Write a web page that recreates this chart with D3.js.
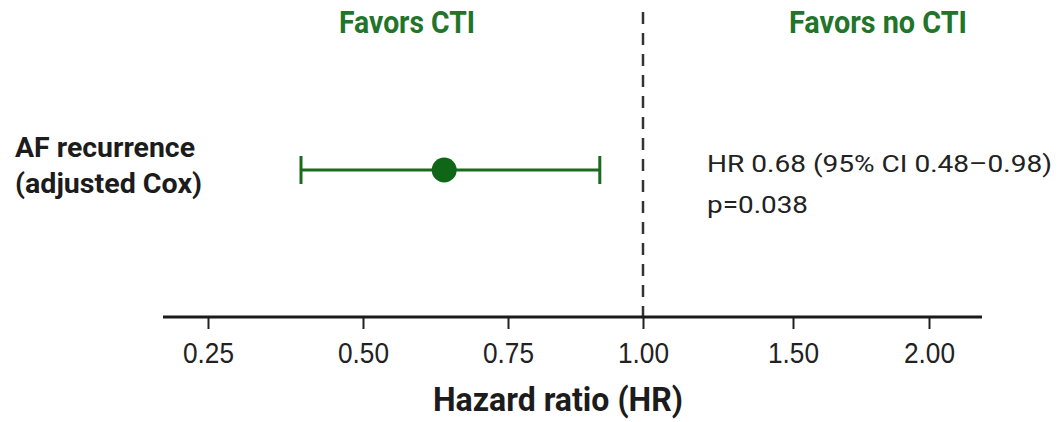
<!DOCTYPE html>
<html>
<head>
<meta charset="utf-8">
<script src="https://cdn.jsdelivr.net/npm/d3@7"></script>
<style>
  html, body { margin: 0; padding: 0; background: #ffffff; }
  svg { display: block; font-family: "Roboto", "Liberation Sans", sans-serif; }
</style>
</head>
<body>
<div id="chart"></div>
<script>
// Chart data
const rowLabels = ['AF recurrence', '(adjusted Cox)'];
const hrPoint = [0.64];
const ciLower = [0.40];
const ciUpper = [0.92];
const tickValues = [0.25, 0.50, 0.75, 1.00, 1.50, 2.00];
const tickLabels = ['0.25', '0.50', '0.75', '1.00', '1.50', '2.00'];
const sideLabels = ['Favors CTI', 'Favors no CTI'];
const resultLines = ['HR 0.68 (95% CI 0.48\u20130.98)', 'p=0.038'];
const axisTitle = 'Hazard ratio (HR)';
const nullValue = 1.00;

const width = 1058, height = 422;
const green = '#1b6b1f';
const dark = '#1c1c1c';

const svg = d3.select('#chart').append('svg')
    .attr('width', width)
    .attr('height', height);

// Piecewise scale, ticks spaced roughly evenly as in the figure
const xScale = d3.scaleLinear()
    .domain(tickValues)
    .range([208, 363, 508, 643, 793, 929]);

const axisY = 317;
const rowY = 170;

// helper for text squeezed to a given width (figure uses a condensed face)
function addText(str, x, y, opts) {
    const t = svg.append('text')
        .attr('x', x)
        .attr('y', y)
        .attr('font-size', opts.size)
        .attr('font-weight', opts.bold ? 'bold' : 'normal')
        .attr('fill', opts.fill || dark)
        .attr('text-anchor', opts.anchor || 'start')
        .text(str);
    if (opts.len) {
        t.attr('textLength', opts.len).attr('lengthAdjust', 'spacingAndGlyphs');
    }
    return t;
}

// dashed null line
svg.append('line')
    .attr('x1', xScale(nullValue))
    .attr('x2', xScale(nullValue))
    .attr('y1', 12)
    .attr('y2', axisY)
    .attr('stroke', '#333')
    .attr('stroke-width', 2.5)
    .attr('stroke-dasharray', '12,9');

// x axis
const axis = svg.append('g')
    .attr('transform', `translate(0,${axisY})`)
    .call(d3.axisBottom(xScale)
        .tickValues(tickValues)
        .tickFormat((d, i) => tickLabels[i])
        .tickSize(12)
        .tickPadding(14));

axis.select('.domain').remove();
axis.selectAll('.tick line')
    .attr('stroke', '#222')
    .attr('stroke-width', 2);
axis.selectAll('.tick text')
    .attr('font-size', 29)
    .attr('fill', '#222')
    .attr('font-family', null)
    .attr('dy', null)
    .attr('y', 46)
    .attr('textLength', 51)
    .attr('lengthAdjust', 'spacingAndGlyphs');

svg.append('line')
    .attr('x1', 163)
    .attr('x2', 982)
    .attr('y1', axisY)
    .attr('y2', axisY)
    .attr('stroke', '#1a1a1a')
    .attr('stroke-width', 3);

// confidence interval
const ci = svg.append('g');
ci.append('line')
    .attr('x1', xScale(ciLower[0]))
    .attr('x2', xScale(ciUpper[0]))
    .attr('y1', rowY)
    .attr('y2', rowY)
    .attr('stroke', green)
    .attr('stroke-width', 3);

[ciLower[0], ciUpper[0]].forEach(v => {
    ci.append('line')
        .attr('x1', xScale(v))
        .attr('x2', xScale(v))
        .attr('y1', rowY - 14)
        .attr('y2', rowY + 14)
        .attr('stroke', green)
        .attr('stroke-width', 3);
});

ci.append('circle')
    .attr('cx', xScale(hrPoint[0]))
    .attr('cy', rowY)
    .attr('r', 12.5)
    .attr('fill', '#0f6617');

// labels
addText(sideLabels[0], 407, 33, { size: 31, bold: true, fill: '#22742a', anchor: 'middle', len: 136 });
addText(sideLabels[1], 878, 33, { size: 31, bold: true, fill: '#22742a', anchor: 'middle', len: 178 });

addText(rowLabels[0], 15, 157, { size: 28, bold: true, len: 180 });
addText(rowLabels[1], 15, 193, { size: 28, bold: true, len: 187 });

addText(resultLines[0], 707, 172, { size: 24.5, fill: '#222', len: 345 });
addText(resultLines[1], 707, 213, { size: 24.5, fill: '#222', len: 101 });

addText(axisTitle, 558, 411, { size: 34, bold: true, anchor: 'middle', len: 250 });
</script>
</body>
</html>
